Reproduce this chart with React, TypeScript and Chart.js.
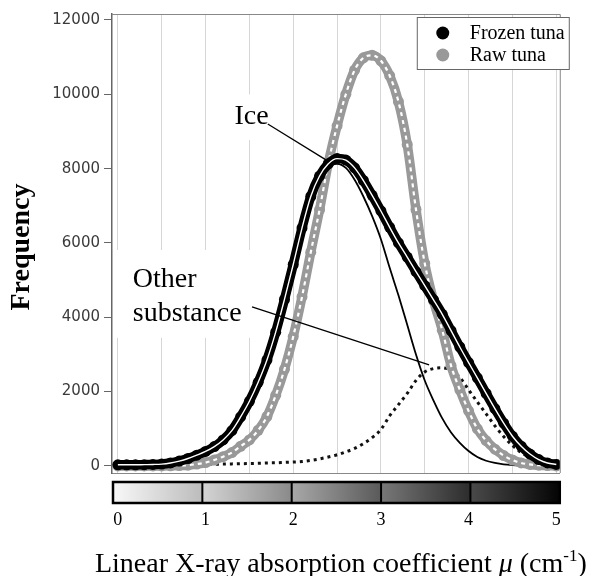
import React, { useEffect, useRef } from 'react';
import { Chart, registerables } from 'chart.js';

Chart.register(...registerables);

// ---- data ----
const MU = [
  0.0, 0.1, 0.2, 0.3, 0.4, 0.5, 0.6, 0.7, 0.8, 0.9,
  1.0, 1.1, 1.2, 1.3, 1.4, 1.5, 1.6, 1.7, 1.8, 1.9,
  2.0, 2.1, 2.2, 2.3, 2.4, 2.5, 2.6, 2.7, 2.8, 2.9,
  3.0, 3.1, 3.2, 3.3, 3.4, 3.5, 3.6, 3.7, 3.8, 3.9,
  4.0, 4.1, 4.2, 4.3, 4.4, 4.5, 4.6, 4.7, 4.8, 4.9, 5.0,
];

const FROZEN = [
  30, 30, 30, 35, 40, 50, 80, 130, 200, 290,
  390, 520, 700, 950, 1320, 1740, 2250, 2850, 3600, 4480,
  5420, 6400, 7250, 7800, 8130, 8270, 8230, 8020, 7680, 7280,
  6860, 6420, 6000, 5620, 5230, 4850, 4470, 4080, 3640, 3200,
  2780, 2370, 1950, 1540, 1150, 800, 530, 320, 170, 80, 40,
];

const RAW = [
  0, 0, 0, 0, 0, 0, 5, 10, 20, 50,
  90, 160, 250, 360, 530, 700, 960, 1330, 1900, 2600,
  3480, 4550, 5750, 6890, 8150, 9150, 10000, 10650, 10980, 11050,
  10900, 10500, 9800, 8650, 6900, 5450, 4450, 3650, 2700, 2050,
  1480, 1000, 680, 450, 280, 160, 80, 40, 20, 10, 0,
];

const ICE = [
  10, 10, 10, 15, 20, 30, 60, 110, 180, 265,
  360, 485, 660, 905, 1270, 1690, 2190, 2790, 3530, 4410,
  5350, 6320, 7150, 7700, 8040, 8130, 8020, 7700, 7250, 6720,
  6100, 5330, 4590, 3800, 3000, 2300, 1760, 1280, 900, 620,
  400, 240, 140, 80, 40, 20, 10, 5, 0, 0, 0,
];

const OTHER = [
  20, 20, 20, 25, 25, 30, 30, 35, 35, 40,
  40, 45, 50, 55, 60, 65, 70, 80, 85, 95,
  105, 120, 150, 190, 240, 300, 380, 470, 600, 760,
  980, 1350, 1650, 1950, 2300, 2530, 2620, 2640, 2570, 2380,
  2050, 1720, 1400, 1080, 790, 550, 360, 220, 130, 70, 40,
];

const Y_TICKS = [0, 2000, 4000, 6000, 8000, 10000, 12000];
const X_TICKS = [0, 0.5, 1, 1.5, 2, 2.5, 3, 3.5, 4, 4.5, 5];
const X_TICK_LABELS = ['0', '', '1', '', '2', '', '3', '', '4', '', '5'];
const SERIES_LABELS = ['Frozen tuna', 'Raw tuna'];
const Y_TITLE = 'Frequency';
const X_TITLE_MAIN = 'Linear X-ray absorption coefficient ';
const X_TITLE_SYMBOL = 'μ';
const X_TITLE_UNIT = ' (cm';
const X_TITLE_EXP = '-1';
const X_TITLE_END = ')';
const ICE_LABEL = ['Ice'];
const OTHER_LABEL = ['Other', 'substance'];

// ---- styles / layout ----
const FROZEN_COLOR = '#000000';
const RAW_COLOR = '#999999';
const COLORBAR_STOPS = [
  ['#f8f8f8', '#bcbcbc'],
  ['#d4d4d4', '#8a8a8a'],
  ['#a8a8a8', '#5a5a5a'],
  ['#787878', '#2c2c2c'],
  ['#4a4a4a', '#040404'],
];
const SERIF = '"Liberation Serif", "Times New Roman", serif';

// annotation geometry in data space
const ANNOTATIONS = [
  { lines: ICE_LABEL, textAt: [1.33, 9200], from: [1.71, 9200], to: [2.41, 8180], box: [1.2, 10000, 1.87, 8770] },
  { lines: OTHER_LABEL, textAt: [0.17, 4816], from: [1.53, 4278], to: [3.55, 2717], box: [-0.2, 5810, 1.61, 3445] },
];

const customPlugin = {
  id: 'customDecor',
  beforeDatasetsDraw(chart: any) {
    const { ctx, chartArea: ca, scales } = chart;
    const x = scales.x, y = scales.y;
    ctx.save();
    ctx.fillStyle = '#ffffff';
    for (const a of ANNOTATIONS) {
      const px0 = Math.max(x.getPixelForValue(a.box[0]), ca.left + 1);
      const px1 = x.getPixelForValue(a.box[2]);
      const py0 = y.getPixelForValue(a.box[1]);
      const py1 = y.getPixelForValue(a.box[3]);
      ctx.fillRect(px0, py0, px1 - px0, py1 - py0);
    }
    ctx.restore();
  },
  afterDatasetsDraw(chart: any) {
    const { ctx, scales } = chart;
    const x = scales.x, y = scales.y;
    ctx.save();
    for (const a of ANNOTATIONS) {
      ctx.strokeStyle = '#000';
      ctx.lineWidth = 1.3;
      ctx.beginPath();
      ctx.moveTo(x.getPixelForValue(a.from[0]), y.getPixelForValue(a.from[1]));
      ctx.lineTo(x.getPixelForValue(a.to[0]), y.getPixelForValue(a.to[1]));
      ctx.stroke();
      ctx.fillStyle = '#000';
      ctx.font = '28px ' + SERIF;
      ctx.textAlign = 'left';
      ctx.textBaseline = 'alphabetic';
      const tx = x.getPixelForValue(a.textAt[0]);
      const ty = y.getPixelForValue(a.textAt[1]);
      a.lines.forEach((ln, i) => ctx.fillText(ln, tx, ty + i * 34));
    }
    ctx.restore();
  },
  afterDraw(chart: any) {
    const { ctx, chartArea: ca } = chart;
    ctx.save();
    // top and right frame
    ctx.strokeStyle = '#888';
    ctx.lineWidth = 1;
    ctx.beginPath();
    ctx.moveTo(ca.left, ca.top + 0.5);
    ctx.lineTo(ca.right + 0.5, ca.top + 0.5);
    ctx.lineTo(ca.right + 0.5, ca.bottom);
    ctx.stroke();

    // legend
    const lw = 152, lh = 52;
    const lx = ca.right - 143, ly = ca.top + 3;
    ctx.fillStyle = '#fff';
    ctx.fillRect(lx, ly, lw, lh);
    ctx.strokeStyle = '#666';
    ctx.lineWidth = 1;
    ctx.strokeRect(lx + 0.5, ly + 0.5, lw, lh);
    const colors = [FROZEN_COLOR, RAW_COLOR];
    SERIES_LABELS.forEach((lab, i) => {
      const cy = ly + 16 + i * 22;
      ctx.fillStyle = colors[i];
      ctx.beginPath();
      ctx.arc(lx + 26, cy, 6.5, 0, Math.PI * 2);
      ctx.fill();
      ctx.fillStyle = '#000';
      ctx.font = '20px ' + SERIF;
      ctx.textAlign = 'left';
      ctx.textBaseline = 'middle';
      ctx.fillText(lab, lx + 53, cy + 1);
    });

    // colour bar
    const cbL = ca.left + 1, cbR = ca.right, cbT = ca.bottom + 9, cbB = ca.bottom + 30;
    const segW = (cbR - cbL) / COLORBAR_STOPS.length;
    COLORBAR_STOPS.forEach((st, i) => {
      const sx = cbL + i * segW;
      const g = ctx.createLinearGradient(sx, 0, sx + segW, 0);
      g.addColorStop(0, st[0]);
      g.addColorStop(1, st[1]);
      ctx.fillStyle = g;
      ctx.fillRect(sx, cbT, segW, cbB - cbT);
    });
    ctx.strokeStyle = '#000';
    ctx.lineWidth = 2;
    for (let i = 1; i < COLORBAR_STOPS.length; i++) {
      const sx = cbL + i * segW;
      ctx.beginPath();
      ctx.moveTo(sx, cbT);
      ctx.lineTo(sx, cbB);
      ctx.stroke();
    }
    ctx.lineWidth = 2.5;
    ctx.strokeRect(cbL, cbT, cbR - cbL, cbB - cbT);

    // y title
    ctx.save();
    ctx.translate(22, 247);
    ctx.rotate(-Math.PI / 2);
    ctx.fillStyle = '#000';
    ctx.font = 'bold 28px ' + SERIF;
    ctx.textAlign = 'center';
    ctx.textBaseline = 'middle';
    ctx.fillText(Y_TITLE, 0, 0);
    ctx.restore();

    // x title (mixed styles)
    const parts = [
      { t: X_TITLE_MAIN, f: '28px ' + SERIF, dy: 0 },
      { t: X_TITLE_SYMBOL, f: 'italic 28px ' + SERIF, dy: 0 },
      { t: X_TITLE_UNIT, f: '28px ' + SERIF, dy: 0 },
      { t: X_TITLE_EXP, f: '17px ' + SERIF, dy: -11 },
      { t: X_TITLE_END, f: '28px ' + SERIF, dy: 0 },
    ];
    let total = 0;
    const widths = parts.map((p) => {
      ctx.font = p.f;
      const w = ctx.measureText(p.t).width;
      total += w;
      return w;
    });
    let cx = (ca.left + ca.right) / 2 + 5 - total / 2;
    ctx.fillStyle = '#000';
    ctx.textAlign = 'left';
    ctx.textBaseline = 'alphabetic';
    parts.forEach((p, i) => {
      ctx.font = p.f;
      ctx.fillText(p.t, cx, 572 + p.dy);
      cx += widths[i];
    });
    ctx.restore();
  },
};

const pts = (vals: number[]) => MU.map((m, i) => ({ x: m, y: vals[i] }));

export default function App() {
  const ref = useRef<HTMLCanvasElement | null>(null);
  useEffect(() => {
    if (!ref.current) return;
    // Chart.js paints the first dataset last (on top), so list top-most first.
    const chart = new Chart(ref.current, {
      type: 'line',
      data: {
        datasets: [
          {
            label: 'Frozen tuna fit',
            data: pts(FROZEN),
            borderColor: '#ffffff',
            borderWidth: 1.4,
            pointRadius: 0,
            cubicInterpolationMode: 'monotone',
            fill: false,
          },
          {
            label: SERIES_LABELS[0],
            data: pts(FROZEN),
            borderColor: FROZEN_COLOR,
            borderWidth: 9.5,
            borderCapStyle: 'round',
            borderJoinStyle: 'round',
            pointRadius: 5.5,
            pointBackgroundColor: FROZEN_COLOR,
            pointBorderWidth: 0,
            cubicInterpolationMode: 'monotone',
            fill: false,
          },
          {
            label: 'Raw tuna fit',
            data: pts(RAW),
            borderColor: '#ffffff',
            borderWidth: 2.2,
            borderDash: [4, 4],
            pointRadius: 0,
            cubicInterpolationMode: 'monotone',
            fill: false,
          },
          {
            label: SERIES_LABELS[1],
            data: pts(RAW),
            borderColor: RAW_COLOR,
            borderWidth: 9.5,
            borderCapStyle: 'round',
            borderJoinStyle: 'round',
            pointRadius: 5.5,
            pointBackgroundColor: RAW_COLOR,
            pointBorderWidth: 0,
            cubicInterpolationMode: 'monotone',
            fill: false,
          },
          {
            label: 'Ice',
            data: pts(ICE),
            borderColor: '#000',
            borderWidth: 1.8,
            pointRadius: 0,
            cubicInterpolationMode: 'monotone',
            fill: false,
          },
          {
            label: 'Other substance',
            data: pts(OTHER),
            borderColor: '#111',
            borderWidth: 3,
            borderDash: [3, 4],
            pointRadius: 0,
            cubicInterpolationMode: 'monotone',
            fill: false,
          },
        ],
      },
      options: {
        responsive: false,
        animation: false,
        layout: { padding: { top: 14, right: 29, left: 0, bottom: 0 } },
        plugins: { legend: { display: false }, tooltip: { enabled: false } },
        scales: {
          x: {
            type: 'linear',
            min: -0.067,
            max: 5.04,
            afterFit: (s: any) => { s.height = 103; },
            afterBuildTicks: (s: any) => { s.ticks = X_TICKS.map((v) => ({ value: v })); },
            grid: { color: '#d6d6d6', lineWidth: 1, drawTicks: false },
            border: { display: true, color: '#888', width: 1 },
            ticks: {
              padding: 36,
              autoSkip: false,
              maxRotation: 0,
              color: '#000',
              font: { family: SERIF, size: 18 },
              callback: (_v: any, i: number) => X_TICK_LABELS[i],
            },
          },
          y: {
            type: 'linear',
            min: -190,
            max: 12160,
            afterFit: (s: any) => { s.width = 112; },
            afterBuildTicks: (s: any) => { s.ticks = Y_TICKS.map((v) => ({ value: v })); },
            grid: { drawOnChartArea: false, drawTicks: true, tickLength: 8, color: '#666' },
            border: { display: true, color: '#666', width: 1.5 },
            ticks: {
              padding: 4,
              color: '#3a3a3a',
              font: { family: '"DejaVu Sans", sans-serif', size: 15 },
              callback: (_v: any, i: number) => String(Y_TICKS[i]),
            },
          },
        },
      },
      plugins: [customPlugin],
    } as any);
    return () => chart.destroy();
  }, []);
  return (
    <div style={{ position: 'fixed', left: 0, top: 0, width: 597, height: 576, background: '#fff' }}>
      <canvas ref={ref} width={597} height={576} style={{ display: 'block' }} />
    </div>
  );
}
